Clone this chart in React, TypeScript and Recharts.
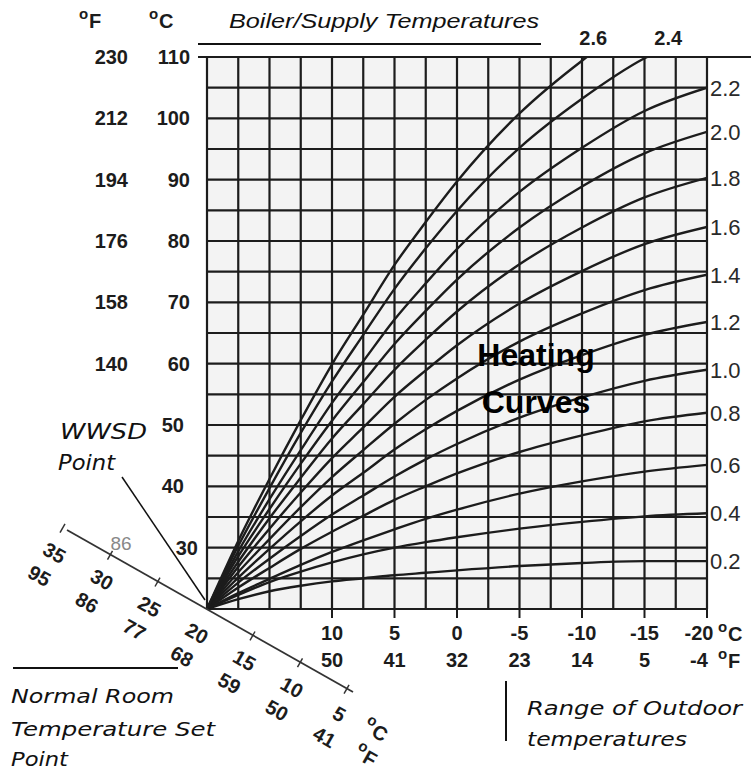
import React from "react";
import { LineChart, Line, XAxis, YAxis, CartesianGrid, ReferenceDot } from "recharts";

// outdoor temperature (°C) where the curves are read
const outdoorC = [20, 17.5, 15, 12.5, 10, 7.5, 5, 2.5, 0, -5, -10, -15, -20];

// supply temperature (°C) for each heating curve
const curve02 = [20, 21.6, 22.9, 23.8, 24.5, 25.0, 25.5, 25.9, 26.3, 27.0, 27.5, 27.8, 27.8];
const curve04 = [20, 22.3, 24.4, 26.1, 27.6, 28.9, 30.0, 30.9, 31.7, 33.1, 34.2, 35.1, 35.6];
const curve06 = [20, 22.6, 24.9, 27.2, 29.3, 31.2, 33.0, 34.7, 36.2, 38.8, 40.8, 42.4, 43.5];
const curve08 = [20, 23.5, 26.7, 29.8, 32.6, 35.2, 37.8, 40.0, 42.1, 45.6, 48.3, 50.6, 52.0];
const curve10 = [20, 24.3, 28.2, 31.9, 35.4, 38.5, 41.6, 44.4, 46.9, 51.2, 54.5, 57.2, 59.0];
const curve12 = [20, 25.1, 29.8, 34.3, 38.5, 42.2, 46.0, 49.3, 52.3, 57.4, 61.4, 64.7, 66.8];
const curve14 = [20, 26.0, 31.4, 36.6, 41.5, 45.9, 50.2, 54.1, 57.6, 63.6, 68.2, 72.0, 74.5];
const curve16 = [20, 26.9, 33.1, 39.0, 44.6, 49.6, 54.6, 58.9, 63.0, 69.8, 75.1, 79.5, 82.3];
const curve18 = [20, 27.7, 34.8, 41.4, 47.8, 53.4, 59.0, 63.9, 68.5, 76.2, 82.2, 87.1, 90.3];
const curve20 = [20, 28.6, 36.3, 43.7, 50.7, 57.0, 63.2, 68.6, 73.7, 82.2, 88.9, 94.3, 97.8];
const curve22 = [20, 29.4, 37.9, 45.9, 53.6, 60.4, 67.2, 73.1, 78.7, 88.0, 95.2, 101.2, 105.0];
const curve24 = [20, 30.3, 39.7, 48.7, 57.1, 64.7, 72.2, 78.8, 84.9, 95.2, 103.2, 109.8, 114.0];
const curve26 = [20, 31.1, 41.2, 50.8, 59.9, 68.0, 76.1, 83.1, 89.7, 100.8, 109.4, 116.5, 121.0];

const curveSeries = [curve02, curve04, curve06, curve08, curve10, curve12, curve14, curve16, curve18, curve20, curve22, curve24, curve26];
const curveLabels = ["0.2", "0.4", "0.6", "0.8", "1.0", "1.2", "1.4", "1.6", "1.8", "2.0", "2.2", "2.4", "2.6"];

// curves that leave through the top, and where their label sits
const topLabels = ["2.6", "2.4"];
const topLabelAt = [-10.9, -16.9];

// axis ticks (grid) and labels
const xTicks = [20, 17.5, 15, 12.5, 10, 7.5, 5, 2.5, 0, -2.5, -5, -7.5, -10, -12.5, -15, -17.5, -20];
const xLabelC = [10, 5, 0, -5, -10, -15, -20];
const xLabelF = ["50", "41", "32", "23", "14", "5", "-4"];
const yTicks = [20, 25, 30, 35, 40, 45, 50, 55, 60, 65, 70, 75, 80, 85, 90, 95, 100, 105, 110];
const yLabelC = [110, 100, 90, 80, 70, 60, 50, 40, 30];
const yLabelF = ["230", "212", "194", "176", "158", "140"];

// room temperature set point scale (diagonal)
const roomC = ["35", "30", "25", "20", "15", "10", "5"];
const roomF = ["95", "86", "77", "68", "59", "50", "41"];

const data = outdoorC.map((t, i) => {
  const row: any = { t };
  curveSeries.forEach((s, k) => {
    row["k" + k] = s[i];
  });
  return row;
});

const BOLD = "'Liberation Sans', Arial, sans-serif";
const ITAL = "'DejaVu Sans', Verdana, sans-serif";
const INK = "#1c1c1c";

const XTick = (props: any) => {
  const { x, payload } = props;
  const i = xLabelC.indexOf(payload.value);
  if (i < 0) return <g />;
  const last = payload.value === -20;
  const tx = last ? x - 8 : x;
  return (
    <g>
      <line x1={x} y1={609} x2={x} y2={618} stroke={INK} strokeWidth={2} />
      <text x={tx} y={640} textAnchor="middle" fontSize={20} fontWeight="bold" fill={INK} fontFamily={BOLD}>
        {payload.value}
      </text>
      <text x={tx} y={667} textAnchor="middle" fontSize={20} fontWeight="bold" fill={INK} fontFamily={BOLD}>
        {xLabelF[i]}
      </text>
    </g>
  );
};

const YTick = (props: any) => {
  const { y, payload } = props;
  const v = payload.value;
  const i = yLabelC.indexOf(v);
  if (i < 0) return <g />;
  const cx = v === 30 ? 198 : v <= 50 ? 184 : 190;
  return (
    <g>
      <text x={cx} y={y + 7} textAnchor="end" fontSize={20} fontWeight="bold" fill={INK} fontFamily={BOLD}>
        {v}
      </text>
      {yLabelF[i] ? (
        <text x={128} y={y + 7} textAnchor="end" fontSize={20} fontWeight="bold" fill={INK} fontFamily={BOLD}>
          {yLabelF[i]}
        </text>
      ) : null}
    </g>
  );
};

const endLabel = (text: string) => (props: any) => {
  const { x, y, index } = props;
  if (index !== outdoorC.length - 1 || y < 57) return <g />;
  return (
    <text x={x + 3} y={y + 8} fontSize={22} fill="#2a2a2a" fontFamily={BOLD}>
      {text}
    </text>
  );
};

const Deg = ({ x, y, unit, size }: { x: number; y: number; unit: string; size: number }) => (
  <g fontFamily={BOLD} fontWeight="bold" fill={INK}>
    <text x={x} y={y - size * 0.45} fontSize={size * 0.75}>o</text>
    <text x={x + size * 0.5} y={y} fontSize={size}>{unit}</text>
  </g>
);

const Overlay = () => {
  // diagonal scale geometry
  const ox = 205;
  const oy = 609;
  const dx = 47.5;
  const dy = 26.9;
  const rot = 29.5;
  const ticks = [-3, -2, -1, 1, 2, 2.98];
  return (
    <svg width={751} height={774} style={{ position: "absolute", left: 0, top: 0, pointerEvents: "none" }}>
      {/* header */}
      <Deg x={79} y={28} unit="F" size={20} />
      <Deg x={149} y={28} unit="C" size={20} />
      <text x={229} y={28} fontSize={21} fontStyle="italic" fill="#111" fontFamily={BOLD} textLength={310} lengthAdjust="spacingAndGlyphs">
        Boiler/Supply Temperatures
      </text>
      <line x1={198} y1={44} x2={541} y2={44} stroke="#111" strokeWidth={2} />
      <line x1={700} y1={57} x2={751} y2={57} stroke={INK} strokeWidth={2} />
      <line x1={198} y1={57} x2={208} y2={57} stroke={INK} strokeWidth={2} />

      {/* Heating Curves */}
      <text x={536} y={366} textAnchor="middle" fontSize={32} fontWeight="bold" fill="#000" fontFamily={BOLD}>
        Heating
      </text>
      <text x={536} y={413} textAnchor="middle" fontSize={32} fontWeight="bold" fill="#000" fontFamily={BOLD}>
        Curves
      </text>

      {/* WWSD */}
      <text x={60} y={439} fontSize={21} fontStyle="italic" fill="#111" fontFamily={ITAL} textLength={87} lengthAdjust="spacingAndGlyphs">
        WWSD
      </text>
      <text x={58} y={470} fontSize={21} fontStyle="italic" fill="#111" fontFamily={ITAL} textLength={57} lengthAdjust="spacingAndGlyphs">
        Point
      </text>
      <line x1={122} y1={477} x2={205} y2={600} stroke="#111" strokeWidth={1.5} />

      {/* room temperature scale */}
      <line x1={67} y1={530} x2={353} y2={692} stroke="#333" strokeWidth={1.8} />
      {ticks.map((k) => {
        const px = ox + k * dx;
        const py = oy + k * dy;
        return <line key={k} x1={px - 2.5} y1={py + 4.4} x2={px + 2.5} y2={py - 4.4} stroke="#333" strokeWidth={1.5} />;
      })}
      {roomC.map((c, i) => {
        const k = i - 3;
        const px = ox + k * dx;
        const py = oy + k * dy;
        return (
          <g key={c} fontFamily={BOLD} fontWeight="bold" fontSize={20} fill={INK}>
            <text x={px - 9} y={py + 26} textAnchor="middle" dominantBaseline="middle" transform={`rotate(${rot} ${px - 9} ${py + 26})`}>
              {c}
            </text>
            <text x={px - 24} y={py + 49} textAnchor="middle" dominantBaseline="middle" transform={`rotate(${rot} ${px - 24} ${py + 49})`}>
              {roomF[i]}
            </text>
          </g>
        );
      })}
      <g transform={`rotate(${rot} 375 729)`}>
        <Deg x={364} y={737} unit="C" size={20} />
      </g>
      <g transform={`rotate(${rot} 366 755)`}>
        <Deg x={355} y={763} unit="F" size={20} />
      </g>
      <text x={121} y={545} textAnchor="middle" dominantBaseline="middle" fontSize={19} fill="#888" fontFamily={BOLD}>
        86
      </text>

      {/* bottom notes */}
      <line x1={13} y1={668} x2={178} y2={668} stroke="#111" strokeWidth={2} />
      <text x={11} y={703} fontSize={20} fontStyle="italic" fill="#111" fontFamily={ITAL} textLength={163} lengthAdjust="spacingAndGlyphs">
        Normal Room
      </text>
      <text x={11} y={736} fontSize={20} fontStyle="italic" fill="#111" fontFamily={ITAL} textLength={204} lengthAdjust="spacingAndGlyphs">
        Temperature Set
      </text>
      <text x={11} y={766} fontSize={20} fontStyle="italic" fill="#111" fontFamily={ITAL} textLength={57} lengthAdjust="spacingAndGlyphs">
        Point
      </text>
      <line x1={506} y1={681} x2={506} y2={741} stroke="#111" strokeWidth={2} />
      <text x={527} y={715} fontSize={20} fontStyle="italic" fill="#111" fontFamily={ITAL} textLength={215} lengthAdjust="spacingAndGlyphs">
        Range of Outdoor
      </text>
      <text x={527} y={746} fontSize={20} fontStyle="italic" fill="#111" fontFamily={ITAL} textLength={160} lengthAdjust="spacingAndGlyphs">
        temperatures
      </text>

      {/* unit marks after the outdoor scale */}
      <Deg x={718} y={641} unit="C" size={20} />
      <Deg x={718} y={668} unit="F" size={20} />
    </svg>
  );
};

export default function App() {
  return (
    <div style={{ position: "absolute", left: 0, top: 0, width: 751, height: 774, background: "#fff" }}>
      <LineChart width={751} height={774} data={data} margin={{ top: 57, right: 44, bottom: 105, left: 0 }}>
        <CartesianGrid stroke={INK} strokeWidth={2.2} fill="#f3f3f3" fillOpacity={1} />
        <XAxis
          type="number"
          dataKey="t"
          domain={[-20, 20]}
          reversed
          ticks={xTicks}
          interval={0}
          tick={XTick}
          tickLine={false}
          axisLine={false}
          height={60}
          allowDataOverflow
        />
        <YAxis
          type="number"
          domain={[20, 110]}
          ticks={yTicks}
          interval={0}
          tick={YTick}
          tickLine={false}
          axisLine={false}
          width={207}
          allowDataOverflow
        />
        {curveSeries.map((_, k) => (
          <Line
            key={k}
            type="monotone"
            dataKey={"k" + k}
            stroke={INK}
            strokeWidth={2.4}
            dot={false}
            activeDot={false}
            isAnimationActive={false}
            label={endLabel(curveLabels[k])}
          />
        ))}
        {topLabels.map((lab, i) => (
          <ReferenceDot
            key={lab}
            x={topLabelAt[i]}
            y={110}
            r={0}
            fill="none"
            stroke="none"
            ifOverflow="visible"
            label={{ value: lab, position: "top", offset: 12, fontSize: 20, fontWeight: "bold", fill: INK, fontFamily: BOLD }}
          />
        ))}
      </LineChart>
      <Overlay />
    </div>
  );
}
